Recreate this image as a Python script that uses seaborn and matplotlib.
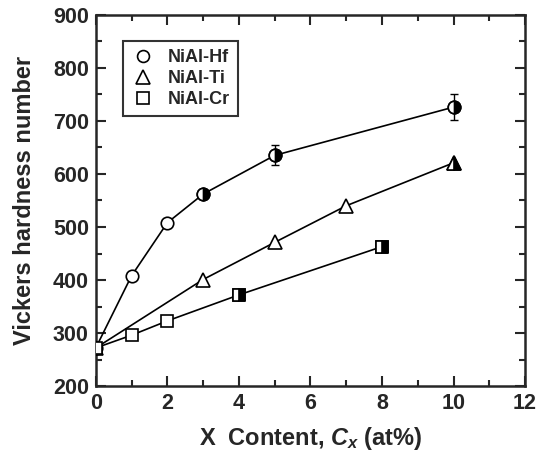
import matplotlib; matplotlib.use('Agg')
import matplotlib.pyplot as plt
from matplotlib.lines import Line2D
from matplotlib.ticker import MultipleLocator
import seaborn as sns

# data
hf_x = [0, 1, 2, 3, 5, 10]
hf_y = [272, 408, 508, 562, 635, 726]
hf_half = [False, False, False, True, True, True]
hf_err_x = [5, 10]
hf_err_y = [635, 726]
hf_err = [19, 24]

ti_x = [0, 3, 5, 7, 10]
ti_y = [272, 401, 471, 540, 621]
ti_half = [False, False, False, False, True]

cr_x = [0, 1, 2, 4, 8]
cr_y = [272, 296, 323, 372, 463]
cr_half = [False, False, False, True, True]

labels = ["NiAl-Hf", "NiAl-Ti", "NiAl-Cr"]

sns.set_style("ticks")
plt.rcParams['font.family'] = ['Liberation Sans', 'DejaVu Sans']
plt.rcParams['font.weight'] = 'bold'
plt.rcParams['mathtext.fontset'] = 'custom'
plt.rcParams['mathtext.it'] = 'Liberation Sans:italic:bold'
plt.rcParams['mathtext.rm'] = 'Liberation Sans:bold'

fig = plt.figure(figsize=(5.38, 4.63), dpi=100)
ax = fig.add_axes([0.178, 0.166, 0.798, 0.802])

series = [
    (hf_x, hf_y, hf_half, 'o', 9),
    (ti_x, ti_y, ti_half, '^', 10),
    (cr_x, cr_y, cr_half, 's', 9),
]

ax.errorbar(hf_err_x, hf_err_y, yerr=hf_err, fmt='none', ecolor='black',
            elinewidth=1.0, capsize=3, capthick=1.0, zorder=2)

for i, (xs, ys, half, mk, ms) in enumerate(series):
    sns.lineplot(x=xs, y=ys, ax=ax, color='black', linewidth=1.2,
                 marker=mk, markersize=ms, markerfacecolor='white',
                 markeredgecolor='black', markeredgewidth=1.2,
                 zorder=3 + i)
    hx = [x for x, h in zip(xs, half) if h]
    hy = [y for y, h in zip(ys, half) if h]
    if hx:
        ax.plot(hx, hy, linestyle='none', marker=mk, markersize=ms,
                fillstyle='right', markerfacecolor='black',
                markerfacecoloralt='white', markeredgecolor='black',
                markeredgewidth=1.2, zorder=3 + i)

ax.set_xlim(0, 12)
ax.set_ylim(200, 900)
ax.xaxis.set_major_locator(MultipleLocator(2))
ax.xaxis.set_minor_locator(MultipleLocator(1))
ax.yaxis.set_major_locator(MultipleLocator(100))
ax.yaxis.set_minor_locator(MultipleLocator(50))
ax.tick_params(which='both', direction='in', top=True, right=True,
               width=1.5, labelsize=15.5, pad=5)
ax.tick_params(which='major', length=7)
ax.tick_params(which='minor', length=4)
for s in ax.spines.values():
    s.set_linewidth(1.8)
for lab in ax.get_xticklabels() + ax.get_yticklabels():
    lab.set_fontweight('bold')

ax.set_xlabel("X  Content, $C_x$ (at%)", fontsize=17, fontweight='bold', labelpad=8)
ax.set_ylabel("Vickers hardness number", fontsize=17, fontweight='bold', labelpad=12)

handles = [Line2D([], [], linestyle='none', marker=m, markersize=ms * 0.95,
                  markerfacecolor='white', markeredgecolor='black',
                  markeredgewidth=1.2)
           for (_, _, _, m, ms) in series]
leg = ax.legend(handles, labels, loc='upper left', bbox_to_anchor=(0.063, 0.93),
                frameon=True, fancybox=False, edgecolor='black', fontsize=13,
                handlelength=1.3, handletextpad=0.75, borderpad=0.45,
                labelspacing=0.22, borderaxespad=0)
leg.get_frame().set_linewidth(1.5)
for t in leg.get_texts():
    t.set_fontweight('bold')

fig.savefig("out.png", dpi=100)
plt.close()
